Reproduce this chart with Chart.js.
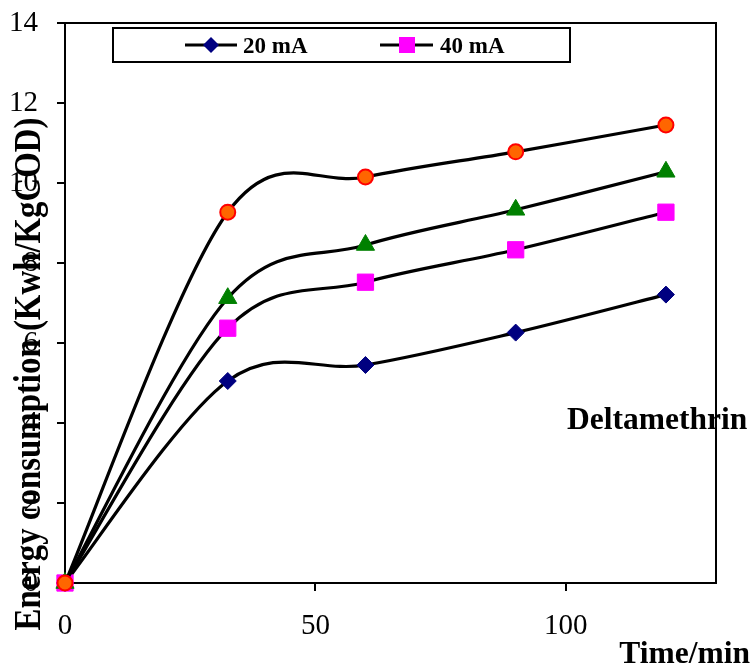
<!DOCTYPE html>
<html><head><meta charset="utf-8">
<style>html,body{margin:0;padding:0;background:#fff;} #wrap{width:750px;height:665px;position:relative;}</style>
<script src="https://cdn.jsdelivr.net/npm/chart.js@4/dist/chart.umd.min.js"></script>
</head><body><div id="wrap"><canvas id="c" width="750" height="665"></canvas></div>
<script>
const timeMin = [0, 32.5, 60, 90, 120];
const series20mA = [0, 5.05, 5.45, 6.26, 7.21];
const series40mA = [0, 6.37, 7.52, 8.33, 9.27];
const series3 = [0, 7.12, 8.45, 9.33, 10.28];
const series4 = [0, 9.27, 10.15, 10.78, 11.45];
const xTicks = [0, 50, 100];
const yTicks = [0, 2, 4, 6, 8, 10, 12, 14];
const legendLabels = ['20 mA', '40 mA'];
const yTitle = 'Energy consumption (Kwh/KgCOD)';
const xTitle = 'Time/min';
const annotation = 'Deltamethrin';

const SERIF = "'Liberation Serif', 'Times New Roman', serif";
const pts = arr => timeMin.map((t, i) => ({x: t, y: arr[i]}));

const ds = (label, arr, style, fill, border, radius, bw, order) => ({
  label, data: pts(arr), borderColor: '#000', borderWidth: 3.2, tension: 0.4,
  pointStyle: style, pointBackgroundColor: fill, pointBorderColor: border,
  pointRadius: radius, pointBorderWidth: bw, order, fill: false, clip: false
});

// Excel-like smoothing: uniform Catmull-Rom control points (1/6 of neighbour span)
const excelSmooth = {
  id: 'excelSmooth',
  beforeDatasetDraw(chart, args) {
    const meta = args.meta, line = meta.dataset, p = meta.data;
    if (!line || !p || p.length < 2) return;
    line.updateControlPoints(chart.chartArea, 'x');
    const n = p.length;
    for (let i = 0; i < n; i++) {
      const prev = p[Math.max(i - 1, 0)], next = p[Math.min(i + 1, n - 1)];
      const dx = (next.x - prev.x) / 6, dy = (next.y - prev.y) / 6;
      p[i].cp1x = p[i].x - dx; p[i].cp1y = p[i].y - dy;
      p[i].cp2x = p[i].x + dx; p[i].cp2y = p[i].y + dy;
    }
    delete line._path;
  }
};

const decor = {
  id: 'decor',
  afterDraw(chart) {
    const ctx = chart.ctx, a = chart.chartArea;
    ctx.save();
    ctx.strokeStyle = '#000'; ctx.lineWidth = 2;
    ctx.beginPath(); ctx.moveTo(a.left, a.top); ctx.lineTo(a.right, a.top); ctx.lineTo(a.right, a.bottom); ctx.stroke();
    // legend
    ctx.strokeRect(113, 28, 457, 34);
    ctx.lineWidth = 3;
    ctx.beginPath(); ctx.moveTo(185, 45); ctx.lineTo(237, 45); ctx.stroke();
    ctx.beginPath(); ctx.moveTo(380, 45); ctx.lineTo(433, 45); ctx.stroke();
    ctx.fillStyle = '#000080';
    ctx.beginPath(); ctx.moveTo(211, 37); ctx.lineTo(219, 45); ctx.lineTo(211, 53); ctx.lineTo(203, 45); ctx.closePath(); ctx.fill();
    ctx.fillStyle = '#FF00FF';
    ctx.fillRect(399, 37, 16, 16);
    ctx.fillStyle = '#000';
    ctx.font = 'bold 23px ' + SERIF;
    ctx.textAlign = 'left'; ctx.textBaseline = 'alphabetic';
    ctx.fillText(legendLabels[0], 243, 53);
    ctx.fillText(legendLabels[1], 440, 53);
    // annotation
    ctx.font = 'bold 31.5px ' + SERIF;
    ctx.fillText(annotation, 567, 429);
    ctx.textAlign = 'right';
    ctx.fillText(xTitle, 750, 663);
    // y title
    ctx.font = 'bold 38px ' + SERIF;
    ctx.textAlign = 'center';
    ctx.translate(40, 374);
    ctx.rotate(-Math.PI / 2);
    ctx.fillText(yTitle, 0, 0, 513);
    ctx.restore();
  }
};

new Chart(document.getElementById('c'), {
  type: 'line',
  data: {
    datasets: [
      ds('20 mA', series20mA, 'rectRot', '#000080', '#000080', 8.5, 1, 3),
      ds('40 mA', series40mA, 'rect', '#FF00FF', '#FF00FF', 11.5, 1, 2),
      ds('Series 3', series3, 'triangle', '#008000', '#008000', 10.5, 1, 1),
      ds('Series 4', series4, 'circle', '#FF6600', '#FF0000', 7.5, 2, 0)
    ]
  },
  options: {
    responsive: false, animation: false, devicePixelRatio: 1,
    layout: {padding: {top: 23, right: 34, left: 0, bottom: 0}},
    plugins: {legend: {display: false}, tooltip: {enabled: false}},
    scales: {
      x: {
        type: 'linear', min: 0, max: 130,
        afterBuildTicks: s => { s.ticks = xTicks.map(v => ({value: v})); },
        afterFit: s => { s.height = 82; s.paddingLeft = 0; s.paddingRight = 0; },
        grid: {display: true, drawOnChartArea: false, drawTicks: true, tickLength: 8, color: '#000', lineWidth: 2},
        border: {display: true, color: '#000', width: 2},
        ticks: {color: '#000', font: {family: SERIF, size: 29}, padding: 18, maxRotation: 0}
      },
      y: {
        type: 'linear', min: 0, max: 14,
        afterBuildTicks: s => { s.ticks = yTicks.map(v => ({value: v})); },
        afterFit: s => { s.width = 65; s.paddingTop = 0; s.paddingBottom = 0; },
        grid: {display: true, drawOnChartArea: false, drawTicks: true, tickLength: 8, color: '#000', lineWidth: 2},
        border: {display: true, color: '#000', width: 2},
        ticks: {color: '#000', font: {family: SERIF, size: 29}, padding: 19}
      }
    }
  },
  plugins: [excelSmooth, decor]
});
</script></body></html>
